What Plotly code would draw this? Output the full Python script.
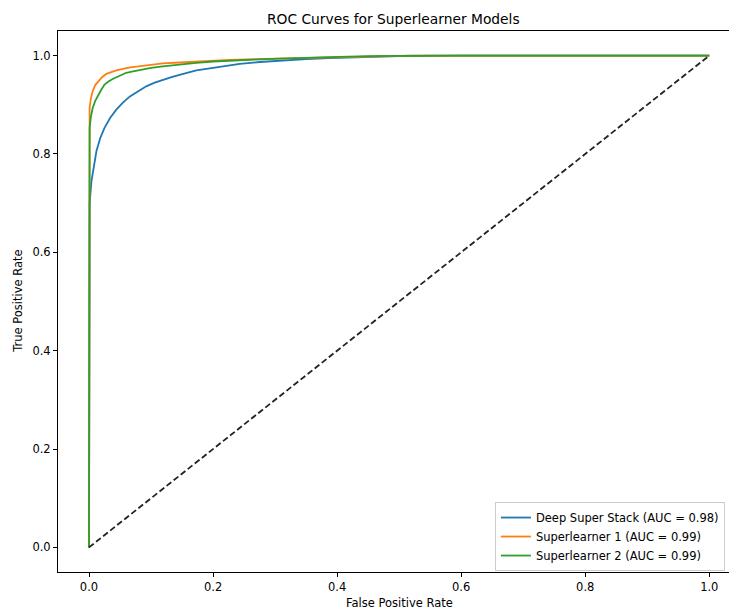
import plotly.graph_objects as go

# ---- data ----
fpr_deep = [0.0, 0.0, 0.001, 0.004, 0.008, 0.012, 0.018, 0.025, 0.034, 0.044, 0.055, 0.066, 0.08, 0.093,
            0.106, 0.119, 0.133, 0.146, 0.16, 0.173, 0.2, 0.222, 0.243, 0.275, 0.308, 0.35, 0.388, 0.43, 0.5, 0.6, 1.0]
tpr_deep = [0.0, 0.64, 0.70, 0.745, 0.78, 0.806, 0.832, 0.853, 0.873, 0.89, 0.905, 0.917, 0.928, 0.938,
            0.945, 0.951, 0.956, 0.961, 0.966, 0.97, 0.975, 0.979, 0.983, 0.987, 0.99, 0.993, 0.995, 0.997, 0.999, 1.0, 1.0]

fpr_sl1 = [0.0, 0.0, 0.001, 0.003, 0.006, 0.01, 0.015, 0.021, 0.028, 0.036, 0.044, 0.055, 0.066, 0.08, 0.093,
           0.119, 0.146, 0.173, 0.2, 0.227, 0.267, 0.307, 0.35, 0.4, 0.45, 0.52, 0.88, 1.0]
tpr_sl1 = [0.0, 0.826, 0.894, 0.913, 0.928, 0.94, 0.948, 0.956, 0.963, 0.967, 0.97, 0.973, 0.976, 0.978, 0.98,
           0.984, 0.986, 0.988, 0.99, 0.991, 0.993, 0.994, 0.996, 0.997, 0.998, 1.0, 1.0, 1.0]

fpr_sl2 = [0.0, 0.0, 0.001, 0.003, 0.006, 0.01, 0.015, 0.02, 0.025, 0.032, 0.039, 0.05, 0.06, 0.071, 0.082,
           0.1, 0.119, 0.146, 0.173, 0.2, 0.227, 0.267, 0.307, 0.35, 0.388, 0.45, 0.55, 1.0]
tpr_sl2 = [0.0, 0.826, 0.853, 0.875, 0.894, 0.908, 0.921, 0.931, 0.941, 0.948, 0.953, 0.96, 0.965, 0.968, 0.971,
           0.975, 0.978, 0.982, 0.985, 0.988, 0.99, 0.992, 0.994, 0.996, 0.997, 0.999, 1.0, 1.0]

diag_x = [0.0, 1.0]
diag_y = [0.0, 1.0]

names = ["Deep Super Stack (AUC = 0.98)", "Superlearner 1 (AUC = 0.99)", "Superlearner 2 (AUC = 0.99)"]
colors = ["#1f77b4", "#ff7f0e", "#2ca02c"]
ticks = [0.0, 0.2, 0.4, 0.6, 0.8, 1.0]

FONT = "DejaVu Sans"

fig = go.Figure()
for xs, ys, nm, c in zip([fpr_deep, fpr_sl1, fpr_sl2], [tpr_deep, tpr_sl1, tpr_sl2], names, colors):
    fig.add_trace(go.Scatter(x=xs, y=ys, mode="lines", name=nm,
                             line=dict(color=c, width=1.8)))
fig.add_trace(go.Scatter(x=diag_x, y=diag_y, mode="lines", showlegend=False,
                         line=dict(color="#222222", width=1.8, dash="6px,3px")))

W, H = 729, 609
L, R, T, B = 58.3, 729, 30.7, 572
x0_px, x1_px = 89.3, 709.3
xr0 = (L - x0_px) / (x1_px - x0_px)
xr1 = (R - x0_px) / (x1_px - x0_px)

fig.update_layout(
    width=W, height=H,
    margin=dict(l=L, r=W - R, t=T, b=H - B, pad=0),
    paper_bgcolor="white", plot_bgcolor="white",
    font=dict(family=FONT, size=11.5, color="#000000"),
    showlegend=True,
    legend=dict(x=(495 - L) / (R - L), y=(B - 502) / (B - T), xanchor="left", yanchor="top",
                bgcolor="rgba(255,255,255,0.8)", bordercolor="#cccccc", borderwidth=1,
                font=dict(family=FONT, size=11.5, color="#000000"),
                tracegroupgap=0),
    xaxis=dict(range=[xr0, xr1], tickvals=ticks, tickformat=".1f", showgrid=False, zeroline=False,
               showline=True, linecolor="#000000", linewidth=1, mirror=True,
               ticks="outside", ticklen=4, tickcolor="#000000", tickwidth=1,
               tickfont=dict(family=FONT, size=11.5, color="#000000")),
    yaxis=dict(range=[-0.05, 1.05], tickvals=ticks, tickformat=".1f", showgrid=False, zeroline=False,
               showline=True, linecolor="#000000", linewidth=1, mirror=False,
               ticks="outside", ticklen=4, tickcolor="#000000", tickwidth=1,
               tickfont=dict(family=FONT, size=11.5, color="#000000")),
)

fig.add_annotation(text="ROC Curves for Superlearner Models", xref="paper", yref="paper",
                   x=(394 - L) / (R - L), y=(B - 18.3) / (B - T), xanchor="center", yanchor="middle",
                   showarrow=False, font=dict(family=FONT, size=13.8, color="#000000"))
fig.add_annotation(text="False Positive Rate", xref="paper", yref="paper",
                   x=(399.3 - L) / (R - L), y=(B - 603.3) / (B - T), xanchor="center", yanchor="middle",
                   showarrow=False, font=dict(family=FONT, size=11.5, color="#000000"))
fig.add_annotation(text="True Positive Rate", xref="paper", yref="paper", textangle=-90,
                   x=(18 - L) / (R - L), y=(B - 301) / (B - T), xanchor="center", yanchor="middle",
                   showarrow=False, font=dict(family=FONT, size=11.5, color="#000000"))

fig.write_html("out.html", config={"displayModeBar": False},
               post_script="document.body.style.margin='0';document.body.style.overflow='hidden';")
